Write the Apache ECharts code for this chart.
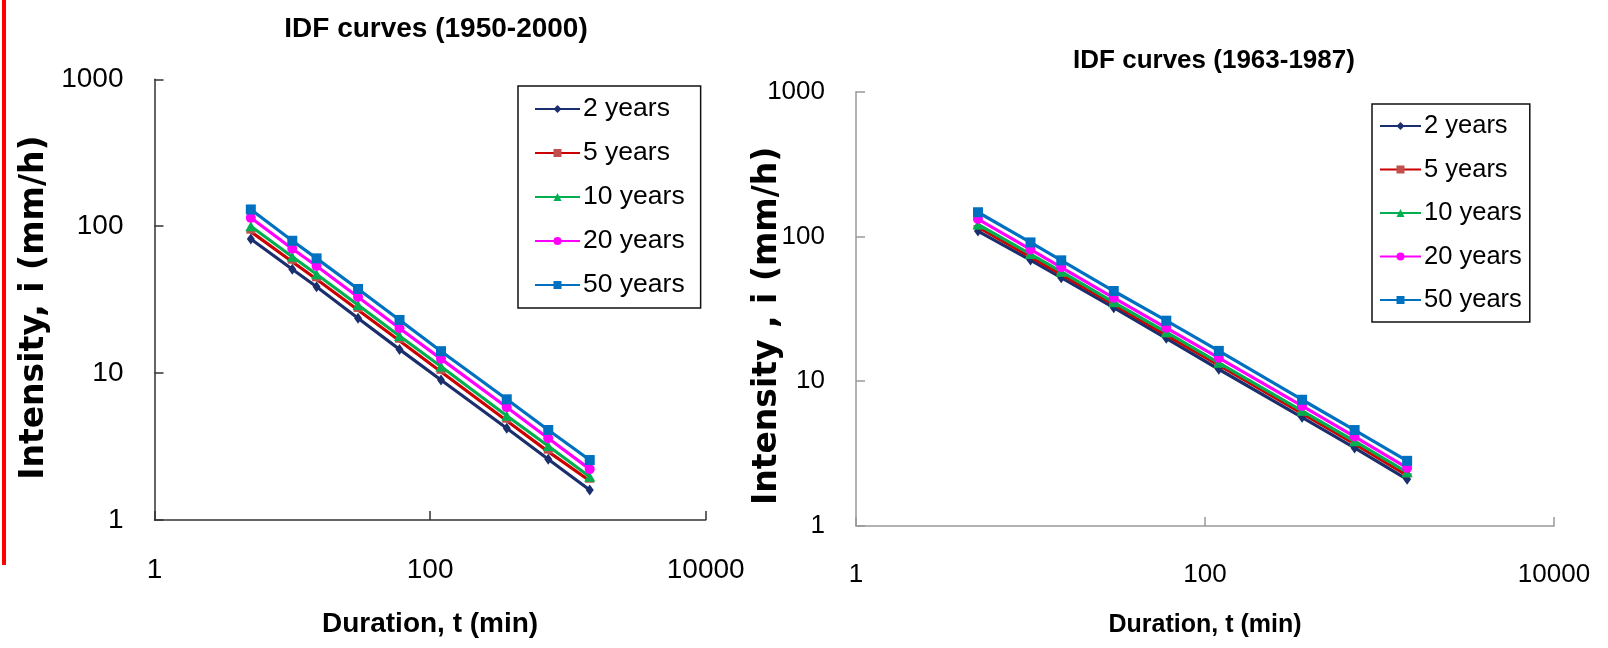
<!DOCTYPE html>
<html>
<head>
<meta charset="utf-8">
<script src="https://cdn.jsdelivr.net/npm/echarts@6/dist/echarts.min.js"></script>
<style>
  html, body { margin: 0; padding: 0; background: #fff; }
  #chart { width: 1608px; height: 648px; }
</style>
</head>
<body>
<div id="chart"></div>
<script>
var durations = [5, 10, 15, 30, 60, 120, 360, 720, 1440]
var seriesNames = ['2 years', '5 years', '10 years', '20 years', '50 years']
var xTicks = [1, 100, 10000]

// IDF curves (1950-2000)
var idfA_2 = [81.8, 50.9, 38.7, 23.6, 14.5, 8.97, 4.21, 2.59, 1.60]
var idfA_5 = [91.8, 57.3, 43.5, 26.9, 16.6, 10.2, 4.74, 2.92, 1.85]
var idfA_10 = [100, 62.0, 47.1, 29.1, 17.9, 11.1, 5.13, 3.19, 1.97]
var idfA_20 = [114, 70.3, 53.6, 33.0, 20.2, 12.5, 5.85, 3.60, 2.22]
var idfA_50 = [130, 79.6, 60.4, 37.4, 23.0, 14.1, 6.63, 4.10, 2.56]

// IDF curves (1963-1987)
var idfB_2 = [109, 68.7, 51.9, 32.2, 19.8, 12.1, 5.63, 3.46, 2.10]
var idfB_5 = [116, 72.4, 54.7, 34.0, 20.8, 12.9, 6.00, 3.69, 2.24]
var idfB_10 = [121, 75.6, 57.1, 35.1, 21.8, 13.4, 6.25, 3.85, 2.35]
var idfB_20 = [132, 81.4, 61.2, 37.7, 23.4, 14.5, 6.75, 4.15, 2.52]
var idfB_50 = [147, 91.0, 68.4, 42.0, 26.2, 16.2, 7.45, 4.60, 2.82]

var narrow = '"Liberation Sans Narrow", "Liberation Sans", sans-serif'
var wide = '"DejaVu Sans", Verdana, sans-serif'

var lineColors = ['#1b2f6e', '#cc0000', '#00b050', '#ff00ff', '#0070c0']
var markColors = ['#1b2f6e', '#c0504d', '#00b050', '#ff00ff', '#0070c0']
var symbols = ['diamond', 'rect', 'triangle', 'circle', 'rect']
var symbolSizes = [[8, 11], [9, 4], [11, 10], [10, 10], [10, 10]]

function pairs(vals) {
    return durations.map(function (t, k) { return [t, vals[k]] })
}

function makeSeries(sets, idx) {
    return sets.map(function (vals, k) {
        return {
            name: seriesNames[k],
            type: 'line',
            xAxisIndex: idx,
            yAxisIndex: idx,
            data: pairs(vals),
            symbol: symbols[k],
            symbolSize: symbolSizes[k],
            showAllSymbol: true,
            lineStyle: { color: lineColors[k], width: 3.2 },
            itemStyle: { color: markColors[k] },
            emphasis: { disabled: true },
            z: 2 + k
        }
    })
}

function plain(v) { return String(v) }

function xAxisFor(idx, color, size, nameSize, gap) {
    return {
        type: 'log', logBase: 10, gridIndex: idx, min: 1, max: 10000,
        name: 'Duration, t (min)', nameLocation: 'middle', nameGap: gap, nameMoveOverlap: false,
        nameTextStyle: { fontFamily: narrow, fontWeight: 'bold', fontSize: nameSize, color: '#000' },
        axisLine: { onZero: false, lineStyle: { color: color, width: 1.5 } },
        axisTick: { inside: true, length: 9, customValues: xTicks, lineStyle: { color: color, width: 1.5 } },
        axisLabel: { customValues: xTicks, formatter: plain, margin: 36, fontFamily: narrow, fontSize: size, color: '#000' },
        splitLine: { show: false },
        minorTick: { show: false }
    }
}

function yAxisFor(idx, color, size, title, gap, shift) {
    return {
        type: 'log', logBase: 10, gridIndex: idx, min: 1, max: 1000,
        name: title, nameLocation: 'middle', nameGap: gap, nameMoveOverlap: false,
        nameTextStyle: { fontFamily: wide, fontWeight: 'bold', fontSize: 33, color: '#000', padding: [0, shift, 0, 0] },
        axisLine: { lineStyle: { color: color, width: 1.5 } },
        axisTick: { inside: true, length: 9, lineStyle: { color: color, width: 1.5 } },
        axisLabel: { formatter: plain, margin: 31, fontFamily: narrow, fontSize: size, color: '#000' },
        splitLine: { show: false }
    }
}

function legendFor(left, top, pad, gap, width, size) {
    return {
        orient: 'vertical', left: left, top: top,
        data: seriesNames,
        itemWidth: width, itemHeight: 10, itemGap: gap,
        padding: pad,
        borderColor: '#111', borderWidth: 1.5,
        selectedMode: false,
        textStyle: { fontFamily: narrow, fontSize: size, lineHeight: 34, color: '#000', padding: [0, 0, 0, -2] }
    }
}

var chart = echarts.init(document.getElementById('chart'))

var option = {
    backgroundColor: '#fff',
    animation: false,
    grid: [
        { left: 154.5, right: 902.3, top: 79.3, bottom: 128 },
        { left: 856, right: 54, top: 91.7, bottom: 122 }
    ],
    xAxis: [xAxisFor(0, '#333', 28, 28, 90), xAxisFor(1, '#999', 26, 25, 87)],
    yAxis: [
        yAxisFor(0, '#333', 28, 'Intensity, i (mm/h)', 104, 16),
        yAxisFor(1, '#999', 26, 'Intensity , i (mm/h)', 72, 34)
    ],
    legend: [
        legendFor(518, 86, [6, 16, 6, 16], 10, 45, 26.5),
        legendFor(1372, 104, [5, 8, 5, 7], 9.5, 41, 25.5)
    ],
    graphic: [
        { type: 'rect', shape: { x: 2, y: 0, width: 4, height: 565 }, style: { fill: '#ff0000' } },
        { type: 'text', x: 436, y: 29, style: { text: 'IDF curves (1950-2000)', align: 'center', verticalAlign: 'middle', font: 'bold 28px ' + narrow, fill: '#000' } },
        { type: 'text', x: 1214, y: 61, style: { text: 'IDF curves (1963-1987)', align: 'center', verticalAlign: 'middle', font: 'bold 26px ' + narrow, fill: '#000' } }
    ],
    series: makeSeries([idfA_2, idfA_5, idfA_10, idfA_20, idfA_50], 0)
        .concat(makeSeries([idfB_2, idfB_5, idfB_10, idfB_20, idfB_50], 1))
}

chart.setOption(option)
</script>
</body>
</html>
